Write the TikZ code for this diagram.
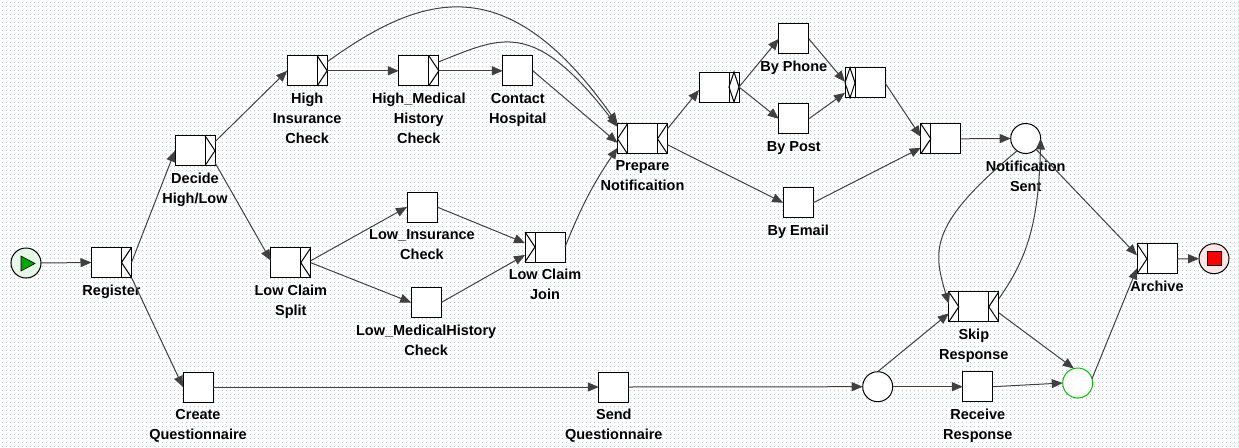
\documentclass[tikz,border=0pt]{standalone}
\usepackage{fontspec}
\setmainfont{Liberation Sans}
\usetikzlibrary{arrows.meta,calc}
\definecolor{flowc}{HTML}{404040}
\definecolor{dotc}{HTML}{B4C0CC}
\definecolor{startfill}{HTML}{E8F8E8}
\definecolor{startgreen}{HTML}{00A800}
\definecolor{endfill}{HTML}{FCE6E6}
\definecolor{greenborder}{HTML}{00C000}
\newcommand{\rstripin}[1]{\draw[strip] ([xshift=-10pt]#1.north east) -- ([xshift=-10pt]#1.south east);
  \draw[strip] (#1.north east) -- ([xshift=-10pt]#1.east) -- (#1.south east);}
\newcommand{\rstripout}[1]{\draw[strip] ([xshift=-10pt]#1.north east) -- ([xshift=-10pt]#1.south east);
  \draw[strip] ([xshift=-10pt]#1.north east) -- (#1.east) -- ([xshift=-10pt]#1.south east);}
\newcommand{\lstripout}[1]{\draw[strip] ([xshift=10pt]#1.north west) -- ([xshift=10pt]#1.south west);
  \draw[strip] (#1.north west) -- ([xshift=10pt]#1.west) -- (#1.south west);}
\newcommand{\lstripin}[1]{\draw[strip] ([xshift=10pt]#1.north west) -- ([xshift=10pt]#1.south west);
  \draw[strip] ([xshift=10pt]#1.north west) -- (#1.west) -- ([xshift=10pt]#1.south west);}
\newcommand{\rstripdia}[1]{\draw[strip] ([xshift=-10pt]#1.north east) -- ([xshift=-10pt]#1.south east);
  \draw[strip] ([xshift=-5pt]#1.north east) -- (#1.east) -- ([xshift=-5pt]#1.south east) -- ([xshift=-10pt]#1.east) -- cycle;}
\newcommand{\lstripdia}[1]{\draw[strip] ([xshift=10pt]#1.north west) -- ([xshift=10pt]#1.south west);
  \draw[strip] ([xshift=5pt]#1.north west) -- ([xshift=10pt]#1.west) -- ([xshift=5pt]#1.south west) -- (#1.west) -- cycle;}
\tikzset{
  task/.style={draw=black, fill=white, line width=1pt, inner sep=0pt, outer sep=0pt, minimum height=30pt, minimum width=30pt},
  wide/.style={task, minimum width=40pt},
  wider/.style={task, minimum width=50pt},
  condnode/.style={circle, draw=black, fill=white, line width=1pt, inner sep=0pt, outer sep=0pt, minimum size=30pt},
  lbl/.style={anchor=north, yshift=-7pt, inner sep=0pt, align=center, font=\fontsize{14.5}{20}\selectfont\bfseries, execute at begin node=\strut},
  lblone/.style={lbl, yshift=3.5pt},
  flow/.style={draw=flowc, line width=1pt, -{Triangle[length=11pt,width=9pt]}},
  strip/.style={draw=black, line width=1pt, line join=miter},
  bgdots/.style={draw=dotc, line width=1pt, dash pattern=on 1pt off 3pt, dash phase=-1.5pt}
}
\begin{document}
\begin{tikzpicture}[x=1pt,y=-1pt]
\useasboundingbox (0,0) rectangle (1239,447);
\fill[white] (0,0) rectangle (1239,447);
\foreach \yy in {2,6,...,446} \draw[bgdots] (0,\yy) -- (1239,\yy);

% nodes
\node[condnode, fill=startfill] (start) at (26,263) {};
\fill[startgreen, draw=black, line width=0.6pt] (21,256) -- (35,263.5) -- (21,271) -- cycle;
\node[wide] (reg) at (111.5,262.5) {};
\node[wide] (decide) at (195,150.7) {};
\node[wide] (hins) at (307.2,70.8) {};
\node[wide] (hmed) at (418.8,70.8) {};
\node[task] (contact) at (517.8,70.8) {};
\node[wide] (lsplit) at (290.8,262.7) {};
\node[task] (lins) at (422,207) {};
\node[task] (lmed) at (426.2,302.5) {};
\node[wide] (ljoin) at (545,247) {};
\node[wider] (prep) at (642.5,138.8) {};
\node[wide] (xsplit) at (719,87) {};
\node[task] (phone) at (793.8,38.8) {};
\node[task] (post) at (793.8,118.8) {};
\node[wide] (ojoin) at (865,82.8) {};
\node[task] (email) at (798.2,202.8) {};
\node[wide] (njoin) at (940.8,138.8) {};
\node[condnode] (nsent) at (1025.7,138.5) {};
\node[wide] (archive) at (1157,258.8) {};
\node[condnode, fill=endfill] (endn) at (1214,258.7) {};
\node[draw=black, fill=red, line width=0.6pt, minimum size=14pt, inner sep=0pt] (endsq) at (endn) {};
\node[wider] (skip) at (973.8,306.8) {};
\node[condnode] (condn) at (877.7,386.7) {};
\node[task] (receive) at (977.8,386.7) {};
\node[condnode, draw=greenborder] (green) at (1077.7,383) {};
\node[task] (create) at (198,387) {};
\node[task] (send) at (613.8,387) {};

% strips
\rstripin{reg}
\rstripout{decide}
\rstripout{hins}
\rstripout{hmed}
\rstripin{lsplit}
\lstripout{ljoin}
\lstripin{prep}
\rstripin{prep}
\rstripdia{xsplit}
\lstripdia{ojoin}
\lstripout{njoin}
\lstripout{archive}
\lstripout{skip}
\rstripin{skip}

% labels
\node[lblone] (t-reg) at (reg.south) {Register};
\node[lbl] (t-decide) at (decide.south) {Decide\\High/Low};
\node[lbl] (t-hins) at (hins.south) {High\\Insurance\\Check};
\node[lbl] (t-hmed) at (hmed.south) {High\_Medical\\History\\Check};
\node[lbl] (t-contact) at (contact.south) {Contact\\Hospital};
\node[lbl] (t-lsplit) at (lsplit.south) {Low Claim\\Split};
\node[lbl] (t-lins) at (lins.south) {Low\_Insurance\\Check};
\node[lbl] (t-lmed) at (lmed.south) {Low\_MedicalHistory\\Check};
\node[lbl] (t-ljoin) at (ljoin.south) {Low Claim\\Join};
\node[lbl] (t-prep) at (prep.south) {Prepare\\Notificaition};
\node[lblone] (t-phone) at (phone.south) {By Phone};
\node[lblone] (t-post) at (post.south) {By Post};
\node[lblone] (t-email) at (email.south) {By Email};
\node[lbl] (t-nsent) at (nsent.south) {Notification\\Sent};
\node[lblone] (t-archive) at (archive.south) {Archive};
\node[lbl] (t-skip) at (skip.south) {Skip\\Response};
\node[lbl] (t-receive) at (receive.south) {Receive\\Response};
\node[lbl] (t-create) at (create.south) {Create\\Questionnaire};
\node[lbl] (t-send) at (send.south) {Send\\Questionnaire};

% flows
\draw[flow] (start.east) -- (reg.west);
\draw[flow] (reg.east) -- (decide.west);
\draw[flow] (reg.south east) -- (create.west);
\draw[flow] ([yshift=-6pt]decide.north east) -- (hins.west);
\draw[flow] ([yshift=3pt]decide.south east) -- ([yshift=2pt]lsplit.west);
\draw[flow] (hins.east) -- (hmed.west);
\draw[flow] (hmed.east) -- (contact.west);
\draw[flow] ([yshift=9pt]hins.east) .. controls (422.7,-7) and (507,-32.7) .. (prep.north west);
\draw[flow] ([yshift=9pt]hmed.east) .. controls (501.5,37.1) and (533.1,17.6) .. ([yshift=-3pt]prep.north west);
\draw[flow] (contact.east) -- ([yshift=-4pt]prep.west);
\draw[flow] (ljoin.east) to[bend left=6] ([yshift=-9pt]prep.west);
\draw[flow] ([yshift=2pt]lsplit.east) -- (lins.west);
\draw[flow] (lsplit.east) -- (lmed.west);
\draw[flow] (lins.east) -- ([yshift=4pt]ljoin.west);
\draw[flow] (lmed.east) -- ([yshift=-8pt]ljoin.west);
\draw[flow] ([yshift=10pt]prep.east) -- ([yshift=-3pt]xsplit.west);
\draw[flow] ([yshift=-6pt]prep.east) -- (email.west);
\draw[flow] (xsplit.east) -- (phone.west);
\draw[flow] (xsplit.east) -- (post.west);
\draw[flow] (phone.east) -- ([yshift=1pt]ojoin.west);
\draw[flow] (post.east) -- ([yshift=-10pt]ojoin.west);
\draw[flow] (ojoin.east) -- ([yshift=2pt]njoin.west);
\draw[flow] (email.east) -- ([yshift=-9pt]njoin.west);
\draw[flow] (njoin.east) -- (nsent.west);
\draw[flow] (nsent) -- ([yshift=3.5pt]archive.west);
\draw[flow] (nsent.235) .. controls (929.4,224) and (932.5,249.8) .. ([yshift=3pt]skip.west);
\draw[flow] ([yshift=8pt]skip.east) .. controls (1027.6,257.7) and (1038.5,222.9) .. (nsent.east);
\draw[flow] (create.east) -- (send.west);
\draw[flow] (send.east) -- (condn.west);
\draw[flow] (condn.north) -- ([yshift=-6.5pt]skip.west);
\draw[flow] (condn.east) -- (receive.west);
\draw[flow] ([yshift=-6pt]skip.east) -- (green.105);
\draw[flow] (receive.east) -- (green.west);
\draw[flow] (green.17) -- ([yshift=-9.5pt]archive.west);
\draw[flow] (archive.east) -- (endn.west);
\end{tikzpicture}
\end{document}
